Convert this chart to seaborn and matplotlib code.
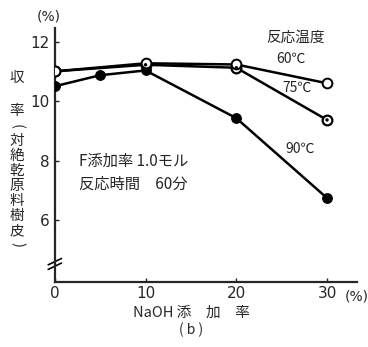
import numpy as np
import pandas as pd
import matplotlib
matplotlib.use("Agg")
import matplotlib.pyplot as plt
import seaborn as sns

sns.set_style("ticks")
plt.rcParams['font.family'] = ['Noto Sans CJK JP', 'DejaVu Sans']

# データ
naoh_60 = [0, 10, 20, 30]
yield_60 = [11.0, 11.27, 11.23, 10.6]
naoh_75 = [0, 10, 20, 30]
yield_75 = [11.0, 11.22, 11.12, 9.37]
naoh_90 = [0, 5, 10, 20, 30]
yield_90 = [10.5, 10.87, 11.03, 9.43, 6.75]

df60 = pd.DataFrame({'x': naoh_60, 'y': yield_60})
df75 = pd.DataFrame({'x': naoh_75, 'y': yield_75})
df90 = pd.DataFrame({'x': naoh_90, 'y': yield_90})

W, H = 368, 347
fig = plt.figure(figsize=(W / 100, H / 100), dpi=100)
ax = fig.add_axes([0.149, 0.187, 0.821, 0.732])

sns.lineplot(data=df90, x='x', y='y', ax=ax, color='black', lw=1.8,
             marker='o', markersize=7, markerfacecolor='black',
             markeredgecolor='black', zorder=3)
sns.lineplot(data=df75, x='x', y='y', ax=ax, color='black', lw=1.8,
             marker='o', markersize=7, markerfacecolor='white',
             markeredgecolor='black', markeredgewidth=1.6, zorder=4)
sns.scatterplot(data=df75.iloc[1:], x='x', y='y', ax=ax, color='black',
                s=6, zorder=6, edgecolor='none')
sns.lineplot(data=df60, x='x', y='y', ax=ax, color='black', lw=1.8,
             marker='o', markersize=7, markerfacecolor='white',
             markeredgecolor='black', markeredgewidth=1.4, zorder=5)

ax.set_xlim(0, 33.3)
ax.set_ylim(3.93, 12.45)
ax.set_xticks([0, 10, 20, 30])
ax.set_yticks([6, 8, 10, 12])
ax.set_xticklabels(['0', '10', '20', '30'], family='DejaVu Sans', fontsize=11)
ax.set_yticklabels(['6', '8', '10', '12'], family='DejaVu Sans', fontsize=11)
ax.tick_params(direction='in', length=3, width=1, pad=4)
ax.tick_params(axis='x', pad=3)
sns.despine(ax=ax)
for s in ['left', 'bottom']:
    ax.spines[s].set_linewidth(1.6)
ax.set_xlabel('')
ax.set_ylabel('')

# 軸の省略記号
for dy in (0.0, 0.018):
    ax.plot([-0.022, 0.022], [0.05 + dy, 0.075 + dy], transform=ax.transAxes,
            color='black', lw=1.2, clip_on=False)

# 注記
ax.text(-0.02, 1.02, '(%)', transform=ax.transAxes, fontsize=10,
        family='DejaVu Sans', ha='center', va='bottom')
ax.text(1.0, -0.055, '(%)', transform=ax.transAxes, fontsize=10,
        family='DejaVu Sans', ha='center', va='center')
ax.text(26.5, 12.0, '反応温度', fontsize=10.5, ha='center')
ax.text(26.0, 11.3, '60℃', fontsize=10, ha='center')
ax.text(26.7, 10.3, '75℃', fontsize=10, ha='center')
ax.text(27.0, 8.25, '90℃', fontsize=10, ha='center')
ax.text(2.7, 8.0, 'F添加率 1.0モル', fontsize=11, va='center')
ax.text(2.7, 7.2, '反応時間　60分', fontsize=11, va='center')

# 縦書きの軸ラベル
ylab_chars = ['収', '率', '(', '対', '絶', '乾', '原', '料', '樹', '皮', ')']
ylab_py = [78, 111, 127, 141, 156, 171, 186, 201, 216, 231, 245]
for ch, py in zip(ylab_chars, ylab_py):
    rot = -90 if ch in '()' else 0
    fig.text(17 / W, 1 - py / H, ch, fontsize=10.5, ha='center', va='center',
             rotation=rot)

fig.text(0.52, 1 - 313 / H, 'NaOH 添　加　率', fontsize=10.5, ha='center', va='center')
fig.text(0.52, 1 - 330 / H, '( b )', fontsize=10, ha='center', va='center')

fig.savefig('out.png', dpi=100)
